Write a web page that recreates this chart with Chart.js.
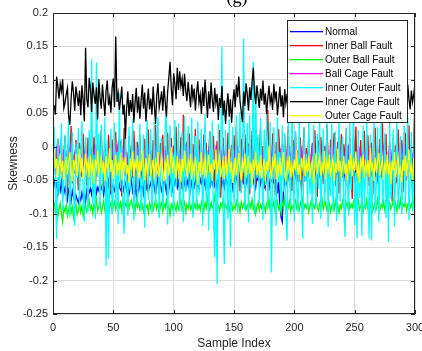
<!DOCTYPE html>
<html>
<head>
<meta charset="utf-8">
<script src="https://cdn.jsdelivr.net/npm/chart.js@4"></script>
<style>
  html, body { margin: 0; padding: 0; background: #fff; }
  canvas { display: block; }
</style>
</head>
<body>
<canvas id="skewChart" width="422" height="351"></canvas>
<script>
const xTicks = [0, 50, 100, 150, 200, 250, 300];
const yTicks = [0.2, 0.15, 0.1, 0.05, 0, -0.05, -0.1, -0.15, -0.2, -0.25];

const faultNames = ["Normal", "Inner Ball Fault", "Outer Ball Fault", "Ball Cage Fault",
  "Inner Outer Fault", "Inner Cage Fault", "Outer Cage Fault"];
const faultColors = ["#0000ff", "#ff0000", "#00ff00", "#ff00ff", "#00ffff", "#000000", "#ffff00"];

const normal = [
  -.048,-.062,-.055,-.071,-.058,-.066,-.052,-.074,-.060,-.069,
  -.057,-.078,-.064,-.070,-.081,-.066,-.075,-.083,-.072,-.079,
  -.084,-.073,-.080,-.068,-.077,-.071,-.082,-.065,-.074,-.069,
  -.062,-.071,-.058,-.067,-.054,-.070,-.061,-.066,-.049,-.063,
  -.058,-.072,-.060,-.055,-.068,-.051,-.064,-.070,-.057,-.062,
  -.066,-.053,-.060,-.069,-.056,-.063,-.048,-.067,-.059,-.054,
  -.065,-.057,-.071,-.061,-.050,-.068,-.062,-.055,-.073,-.060,
  -.066,-.052,-.064,-.058,-.070,-.047,-.063,-.056,-.068,-.059,
  -.054,-.067,-.049,-.061,-.072,-.058,-.045,-.063,-.055,-.066,
  -.060,-.042,-.058,-.068,-.051,-.063,-.047,-.057,-.065,-.050,
  -.056,-.044,-.061,-.052,-.067,-.048,-.059,-.041,-.055,-.063,
  -.049,-.058,-.043,-.064,-.051,-.046,-.060,-.053,-.040,-.057,
  -.062,-.048,-.055,-.044,-.059,-.050,-.066,-.045,-.053,-.060,
  -.047,-.056,-.042,-.058,-.051,-.063,-.046,-.054,-.039,-.057,
  -.050,-.061,-.045,-.053,-.058,-.043,-.055,-.048,-.062,-.046,
  -.052,-.040,-.057,-.049,-.044,-.060,-.047,-.053,-.038,-.055,
  -.046,-.058,-.043,-.051,-.036,-.054,-.048,-.061,-.045,-.050,
  -.041,-.056,-.047,-.052,-.039,-.059,-.044,-.050,-.062,-.048,
  -.043,-.055,-.049,-.060,-.046,-.070,-.052,-.088,-.105,-.112,
  -.064,-.048,-.041,-.056,-.045,-.037,-.052,-.043,-.049,-.035,
  -.044,-.030,-.047,-.038,-.052,-.033,-.041,-.048,-.029,-.045,
  -.036,-.042,-.027,-.050,-.034,-.040,-.046,-.031,-.055,-.038,
  -.044,-.028,-.039,-.047,-.032,-.041,-.025,-.049,-.036,-.043,
  -.030,-.046,-.037,-.052,-.033,-.040,-.045,-.026,-.042,-.035,
  -.048,-.031,-.039,-.044,-.027,-.050,-.036,-.041,-.030,-.046,
  -.034,-.043,-.028,-.038,-.047,-.032,-.040,-.024,-.045,-.037,
  -.041,-.029,-.046,-.035,-.039,-.026,-.043,-.033,-.048,-.031,
  -.038,-.044,-.027,-.040,-.034,-.022,-.042,-.036,-.029,-.045,
  -.023,-.031,-.015,-.028,-.019,-.008,-.025,-.033,-.017,-.022,
  -.029,-.014,-.026,-.010,-.020,-.024,-.006,-.027,-.013,-.021
];

const innerBall = [
  .008,-.042,-.015,.012,-.060,-.025,.004,-.048,-.010,.016,
  -.035,-.070,.002,-.022,.031,-.055,-.012,-.040,.010,-.028,
  -.065,.006,-.018,-.045,.020,-.033,-.008,-.058,.014,-.024,
  -.050,.000,-.030,.015,-.072,-.016,.008,-.041,-.003,.025,
  -.036,-.062,.005,-.020,-.046,.018,-.028,-.068,.011,-.038,
  -.012,.022,-.052,-.005,-.031,.009,-.074,-.019,.028,-.043,
  -.008,-.056,.016,-.026,.003,-.047,.024,-.015,-.061,.007,
  -.032,.019,-.049,-.011,-.038,.012,-.066,-.021,.026,-.044,
  -.004,-.057,.010,-.029,.033,-.036,-.013,-.070,.006,-.025,
  .018,-.048,-.009,-.034,.021,-.059,-.017,.013,-.042,.002,
  -.027,.030,-.053,-.006,-.038,.015,-.064,.048,-.019,-.045,
  .008,-.031,.020,-.058,-.012,.004,-.040,.027,-.069,-.022,
  .011,-.035,-.003,-.051,.018,-.026,.006,-.062,-.014,.023,
  -.043,-.008,.016,-.055,-.020,.009,-.037,.025,-.076,-.011,
  .014,-.046,-.002,-.030,.021,-.060,-.016,.003,-.050,.017,
  -.024,.032,-.041,-.007,-.067,.012,-.028,-.053,.019,-.015,
  -.039,.005,-.071,-.018,.024,-.034,-.004,-.057,.013,-.045,
  -.010,.028,-.049,.001,-.063,-.021,.016,.055,-.038,-.006,
  -.052,.020,-.025,-.073,.007,-.035,.026,-.013,-.058,.004,
  -.030,.017,-.047,-.009,.031,-.040,-.016,-.066,.010,-.023,
  .022,-.054,-.005,-.037,.014,-.069,-.019,.029,-.044,-.002,
  -.031,.018,-.060,-.011,.006,-.048,.025,-.027,-.075,.009,
  -.036,.015,-.021,-.056,.001,-.042,.033,-.014,-.064,.011,
  -.028,-.007,.021,-.051,-.017,.008,-.070,-.033,.019,-.046,
  .004,-.024,.027,-.061,-.010,.013,-.039,-.078,.016,-.022,
  .030,-.050,-.003,-.034,.010,-.066,-.018,.024,-.043,-.008,
  .017,-.059,-.026,.006,-.072,-.014,.028,-.037,-.001,-.053,
  .012,-.029,.035,-.047,-.009,.019,-.064,-.020,.008,-.041,
  -.081,.015,-.032,.003,-.055,.026,-.016,-.044,.010,-.068,
  -.023,.021,-.050,-.006,.032,-.038,-.012,-.075,.018,.065
];

const outerBall = [
  -.082,-.098,-.088,-.104,-.093,-.085,-.100,-.112,-.091,-.097,
  -.087,-.103,-.094,-.083,-.099,-.090,-.106,-.092,-.086,-.101,
  -.095,-.084,-.098,-.089,-.104,-.093,-.087,-.097,-.091,-.080,
  -.094,-.088,-.100,-.085,-.092,-.079,-.096,-.089,-.083,-.098,
  -.090,-.081,-.095,-.086,-.093,-.078,-.091,-.084,-.097,-.088,
  -.082,-.094,-.087,-.076,-.090,-.083,-.096,-.079,-.092,-.085,
  -.089,-.075,-.093,-.084,-.080,-.091,-.086,-.097,-.081,-.090,
  -.085,-.094,-.079,-.088,-.096,-.083,-.091,-.087,-.099,-.084,
  -.092,-.081,-.095,-.088,-.078,-.093,-.086,-.100,-.089,-.083,
  -.097,-.085,-.091,-.080,-.094,-.088,-.102,-.086,-.092,-.081,
  -.089,-.096,-.084,-.093,-.087,-.079,-.095,-.090,-.083,-.098,
  -.086,-.092,-.080,-.094,-.088,-.099,-.085,-.091,-.078,-.093,
  -.087,-.095,-.082,-.090,-.097,-.084,-.092,-.076,-.089,-.094,
  -.083,-.091,-.086,-.074,-.093,-.081,-.088,-.096,-.085,-.090,
  -.079,-.094,-.087,-.092,-.082,-.097,-.088,-.084,-.095,-.089,
  -.093,-.081,-.090,-.086,-.098,-.083,-.091,-.087,-.077,-.094,
  -.088,-.096,-.084,-.091,-.079,-.093,-.086,-.100,-.090,-.083,
  -.095,-.087,-.092,-.080,-.089,-.097,-.085,-.091,-.078,-.094,
  -.086,-.090,-.083,-.096,-.088,-.081,-.093,-.087,-.099,-.084,
  -.090,-.077,-.094,-.086,-.091,-.082,-.097,-.088,-.093,-.085,
  -.080,-.092,-.087,-.095,-.083,-.089,-.076,-.093,-.086,-.091,
  -.084,-.098,-.088,-.081,-.094,-.087,-.092,-.079,-.090,-.096,
  -.085,-.091,-.078,-.093,-.087,-.082,-.095,-.089,-.084,-.097,
  -.088,-.083,-.094,-.080,-.091,-.086,-.099,-.087,-.092,-.081,
  -.089,-.095,-.084,-.090,-.077,-.093,-.086,-.091,-.082,-.096,
  -.087,-.092,-.080,-.094,-.088,-.083,-.097,-.086,-.091,-.079,
  -.093,-.085,-.090,-.082,-.096,-.088,-.084,-.092,-.078,-.089,
  -.094,-.086,-.091,-.081,-.095,-.087,-.072,-.090,-.084,-.093,
  -.088,-.080,-.092,-.085,-.097,-.083,-.090,-.078,-.094,-.086,
  -.089,-.082,-.095,-.087,-.080,-.091,-.085,-.093,-.079,-.088
];

const ballCage = [
  -.010,-.018,-.004,-.022,-.012,.002,-.016,-.026,-.008,-.014,
  -.020,-.006,-.028,-.011,.004,-.017,-.023,-.009,-.002,-.019,
  -.013,-.025,-.007,-.015,-.030,-.010,.001,-.021,-.012,-.005,
  -.018,-.024,-.009,-.014,.003,-.020,-.027,-.011,-.016,-.006,
  -.022,-.013,-.001,-.019,-.029,-.008,-.015,-.024,-.004,-.017,
  -.011,-.021,-.007,.005,-.018,-.026,-.012,-.003,-.020,-.014,
  -.009,-.023,-.016,-.031,-.010,-.002,-.019,-.013,-.025,-.006,
  -.017,.000,-.022,-.012,-.028,-.008,-.015,-.020,-.004,-.024,
  -.011,-.018,-.033,-.009,-.014,.002,-.021,-.016,-.027,-.007,
  -.013,-.023,-.005,-.019,-.010,-.029,-.015,.001,-.020,-.012,
  -.025,-.008,-.017,-.003,-.022,-.014,-.030,-.009,-.018,.004,
  -.012,-.024,-.006,-.020,-.015,-.027,-.010,-.001,-.019,-.013,
  -.028,-.007,-.016,-.021,.003,-.011,-.026,-.014,-.005,-.022,
  -.017,-.009,-.032,-.013,-.002,-.020,-.015,-.024,-.008,-.018,
  .001,-.023,-.012,-.027,-.006,-.016,-.021,-.011,-.029,-.004,
  -.019,-.014,.002,-.025,-.010,-.018,-.031,-.007,-.015,-.022,
  -.012,-.003,-.020,-.026,-.009,-.017,.000,-.023,-.013,-.028,
  -.006,-.016,-.021,-.011,-.030,-.004,-.019,-.014,-.024,-.008,
  -.018,.003,-.022,-.012,-.027,-.007,-.015,-.020,-.002,-.025,
  -.013,-.019,-.009,-.029,-.016,.001,-.021,-.011,-.026,-.005,
  -.017,-.023,-.010,-.014,-.031,-.006,-.019,.004,-.024,-.012,
  -.020,-.008,-.027,-.015,-.002,-.022,-.013,-.018,-.028,-.009,
  .002,-.016,-.021,-.011,-.025,-.005,-.019,-.014,-.030,-.007,
  -.017,-.023,.000,-.012,-.020,-.026,-.008,-.015,-.003,-.022,
  -.013,-.029,-.010,-.018,.003,-.021,-.014,-.024,-.006,-.016,
  -.027,-.009,-.019,-.001,-.023,-.012,-.030,-.017,-.007,-.020,
  -.011,-.025,.004,-.015,-.022,-.008,-.018,-.028,-.004,-.014,
  -.021,-.010,-.026,-.002,-.016,-.023,-.012,-.019,.001,-.027,
  -.008,-.015,-.020,-.011,-.029,-.005,-.017,-.022,-.013,.002,
  -.018,-.024,-.009,-.014,-.026,-.003,-.020,-.012,-.016,.004
];

const innerOuter = [
  .030,-.052,-.138,.012,-.071,-.020,.035,-.095,-.041,.018,
  -.083,-.010,.041,-.105,-.036,.022,-.064,-.118,.005,-.047,
  .028,-.090,-.015,.038,-.072,-.112,.015,-.030,-.098,.025,
  -.060,.131,-.085,-.012,-.108,.126,-.045,.020,-.092,.033,
  -.070,-.020,.044,-.178,.010,-.167,-.038,.027,-.101,-.055,
  .036,-.088,-.008,-.115,.080,-.062,.012,-.094,-.130,.024,
  -.048,-.103,.030,-.066,-.017,.042,-.110,-.031,.008,-.087,
  -.040,.034,-.096,-.058,.018,-.121,-.025,.040,-.079,-.012,
  .026,-.100,-.050,.037,-.085,-.018,.045,-.107,-.034,.014,
  -.091,-.055,.029,.058,-.116,-.027,.032,-.075,-.009,-.104,
  .040,-.060,-.022,.035,-.097,-.043,.021,-.112,.046,-.068,
  -.015,.031,-.089,-.051,.043,-.106,-.028,.016,-.094,.038,
  -.073,-.019,.027,-.118,-.044,.049,-.083,-.006,-.125,.022,
  -.058,.039,-.100,-.165,-.030,-.205,.034,-.077,-.012,.149,
  -.090,-.175,.025,-.048,-.108,.041,-.150,-.020,.030,-.086,
  -.055,.047,-.099,-.014,.052,-.070,-.033,.162,-.095,-.040,
  .035,-.113,.048,-.062,-.025,.127,-.101,.090,-.047,.018,
  -.084,.043,-.036,-.110,.026,-.058,.050,-.092,-.015,.037,
  -.188,-.041,.029,-.079,-.118,.044,-.053,-.008,-.096,.032,
  -.067,.021,-.104,-.140,.036,-.045,-.088,.051,-.026,-.112,
  .024,-.060,-.098,.039,-.035,-.080,-.137,.030,-.052,-.011,
  -.093,.046,-.071,-.024,-.115,.033,-.047,-.090,.019,-.063,
  .041,-.108,-.030,.027,-.084,-.056,.038,-.120,-.010,-.074,
  .034,-.097,-.042,.023,-.111,-.060,.047,-.082,-.019,.015,
  -.089,-.135,.028,-.050,-.103,.036,-.065,-.022,.044,-.117,
  -.038,-.137,.025,-.076,-.014,-.133,.032,-.092,-.046,.040,
  -.070,-.137,.018,-.140,-.028,.037,-.099,-.054,.029,-.113,
  -.035,.043,-.087,-.062,.021,-.106,-.017,-.142,.034,-.078,
  -.045,.027,-.119,-.030,.039,-.093,-.058,.016,-.101,-.040,
  .031,-.085,-.024,.045,-.110,-.052,.022,-.096,-.035,.105
];

const innerCage = [
  .062,.048,.105,.091,.072,.094,.083,.101,.058,.066,
  .079,.088,.045,.033,.072,.098,.081,.054,.090,.076,
  .061,.084,.047,.092,.069,.038,.148,.071,.059,.103,
  .087,.052,.096,.078,.064,.089,.041,.101,.073,.057,
  .093,.068,.046,.084,.099,.062,.074,.051,.088,.102,
  .059,.165,.067,.080,.055,.071,.090,.048,.063,.012,
  .058,.083,.046,.070,.052,.079,.036,.066,.088,.051,
  .075,.042,.069,.093,.057,.081,.038,.064,.087,.056,
  .072,.048,.090,.061,.034,.077,.095,.058,.069,.083,
  .054,.091,.067,.045,.082,.104,.127,.088,.062,.110,
  .094,.071,.118,.085,.113,.090,.102,.076,.109,.084,
  .068,.097,.079,.059,.093,.072,.087,.054,.081,.098,
  .066,.078,.049,.089,.061,.100,.074,.043,.083,.057,
  .096,.070,.052,.088,.065,.079,.040,.073,.058,.091,
  .047,.069,.034,.062,.080,.045,.071,.036,.066,.086,
  .059,.093,.074,.105,.068,.052,.037,.083,.061,.095,
  .078,.054,.089,.070,.097,.118,.081,.064,.092,.075,
  .058,.087,.069,.099,.063,.080,.049,.072,.091,.066,
  .076,.055,.094,.071,.083,.047,.068,.090,.060,.077,
  .044,.086,.065,.079,.052,.093,.070,.061,.088,.057,
  .073,.040,.084,.066,.098,.059,.075,.045,.087,.069,
  .056,.092,.071,.038,.080,.063,.095,.067,.050,.082,
  .074,.058,.089,.043,.077,.065,.101,.070,.054,.086,
  .062,.079,.048,.091,.068,.083,.039,.073,.059,.088,
  .066,.051,.085,.072,.094,.057,.076,.042,.081,.064,
  .090,.069,.053,.087,.061,.078,.036,.070,.093,.058,
  .074,.048,.089,.065,.083,.052,.071,.040,.085,.063,
  .077,.055,.092,.068,.046,.080,.062,.088,.035,.071,
  .059,.086,.067,.050,.079,.064,.091,.044,.073,.057,
  .082,.049,.068,.093,.071,.056,.084,.067,.079,.094
];

const outerCage = [
  -.005,-.032,-.018,-.045,-.026,-.012,-.038,-.021,-.050,-.029,
  -.015,-.041,-.024,-.008,-.036,-.052,-.020,-.033,-.011,-.044,
  -.027,-.003,-.039,-.017,-.048,-.030,-.010,-.035,-.022,-.046,
  -.013,-.037,-.025,-.055,-.019,-.031,-.006,-.042,-.028,-.016,
  -.040,-.023,-.051,-.014,-.034,-.026,-.002,-.038,-.020,-.047,
  -.030,-.012,-.043,-.025,-.036,-.009,-.049,-.022,-.032,-.015,
  -.041,-.027,-.054,-.018,-.035,-.007,-.044,-.024,-.031,-.013,
  -.046,-.021,-.037,-.004,-.029,-.050,-.017,-.039,-.026,-.011,
  -.042,-.033,-.019,-.048,-.023,-.036,-.008,-.045,-.028,-.016,
  -.038,-.052,-.022,-.034,-.012,-.043,-.027,-.001,-.040,-.020,
  -.031,-.047,-.014,-.035,-.024,-.053,-.018,-.037,-.006,-.029,
  -.044,-.021,-.033,-.010,-.049,-.026,-.039,-.015,-.032,-.057,
  -.023,-.036,-.008,-.042,-.028,-.017,-.046,-.030,-.012,-.039,
  -.025,-.051,-.019,-.034,-.004,-.041,-.027,-.015,-.045,-.032,
  -.020,-.048,-.013,-.037,-.026,-.003,-.040,-.022,-.054,-.030,
  -.016,-.043,-.028,-.009,-.036,-.050,-.021,-.033,-.011,-.045,
  -.029,-.014,-.040,-.024,-.056,-.019,-.035,-.007,-.042,-.026,
  -.038,-.012,-.047,-.031,-.018,-.052,-.023,-.036,.002,-.034,
  -.044,-.020,-.030,-.010,-.049,-.027,-.039,-.016,-.043,-.025,
  -.008,-.037,-.053,-.021,-.033,-.014,-.046,-.028,-.040,-.019,
  -.035,-.005,-.042,-.026,-.050,-.017,-.031,-.011,-.044,-.024,
  -.038,-.013,-.047,-.029,-.020,-.055,-.032,-.009,-.041,-.025,
  -.015,-.043,-.027,-.036,-.006,-.048,-.022,-.034,-.012,-.045,
  -.030,-.018,-.052,-.024,-.039,-.003,-.037,-.021,-.046,-.028,
  -.014,-.041,-.026,-.050,-.019,-.033,-.010,-.044,-.023,-.036,
  -.007,-.040,-.029,-.054,-.017,-.031,-.012,-.047,-.025,-.038,
  -.020,-.045,-.002,-.034,-.027,-.051,-.016,-.039,-.022,-.009,
  -.043,-.030,-.018,-.049,-.026,-.037,-.011,-.042,-.024,-.056,
  -.021,-.035,-.008,-.046,-.028,-.015,-.040,-.032,-.053,-.019,
  -.036,-.013,-.044,-.025,-.004,-.038,-.029,-.050,-.017,-.031
];

const seriesValues = [normal, innerBall, outerBall, ballCage, innerOuter, innerCage, outerCage];

const axisColor = "#262626";
const gridColor = "#dcdcdc";
const font = "'Liberation Sans', Arial, sans-serif";

// frame with inward tick marks, the "(g)" caption and the boxed legend
const framePlugin = {
  id: "frame",
  afterDraw(chart) {
    const { ctx, chartArea: a, scales } = chart;
    ctx.save();
    ctx.strokeStyle = axisColor;
    ctx.lineWidth = 1;
    ctx.strokeRect(a.left + 0.5, a.top + 0.5, a.right - a.left - 1, a.bottom - a.top - 1);
    ctx.beginPath();
    xTicks.forEach(v => {
      const x = Math.round(scales.x.getPixelForValue(v)) + 0.5;
      ctx.moveTo(x, a.bottom); ctx.lineTo(x, a.bottom - 4);
      ctx.moveTo(x, a.top); ctx.lineTo(x, a.top + 4);
    });
    yTicks.forEach(v => {
      const y = Math.round(scales.y.getPixelForValue(v)) + 0.5;
      ctx.moveTo(a.left, y); ctx.lineTo(a.left + 4, y);
      ctx.moveTo(a.right, y); ctx.lineTo(a.right - 4, y);
    });
    ctx.stroke();

    ctx.fillStyle = "#000";
    ctx.font = "18px 'Liberation Serif', serif";
    ctx.textAlign = "center";
    ctx.textBaseline = "alphabetic";
    ctx.fillText("(g)", 237, 3);

    // legend
    const lx = 287, ly = 20, lw = 120, lh = 102;
    ctx.fillStyle = "#fff";
    ctx.fillRect(lx, ly, lw, lh);
    ctx.strokeStyle = axisColor;
    ctx.lineWidth = 1;
    ctx.strokeRect(lx + 0.5, ly + 0.5, lw, lh);
    ctx.font = "10px " + font;
    ctx.textAlign = "left";
    ctx.textBaseline = "middle";
    faultNames.forEach((name, i) => {
      const y = 31 + i * 14;
      ctx.fillStyle = faultColors[i];
      ctx.fillRect(290, y, 33, 1.3);
      ctx.fillStyle = "#000";
      ctx.fillText(name, 325, y + 1);
    });
    ctx.restore();
  }
};

new Chart(document.getElementById("skewChart"), {
  type: "line",
  data: {
    datasets: seriesValues.map((vals, i) => ({
      label: faultNames[i],
      data: vals.map((v, k) => ({ x: k + 1, y: v })),
      borderColor: faultColors[i],
      borderWidth: 1.3,
      pointRadius: 0,
      tension: 0,
      order: seriesValues.length - i
    }))
  },
  options: {
    responsive: false,
    animation: false,
    layout: { padding: { top: 13, right: 7, left: 0, bottom: 0 } },
    plugins: {
      legend: { display: false },
      tooltip: { enabled: false }
    },
    scales: {
      x: {
        type: "linear",
        min: 0,
        max: 300,
        afterBuildTicks: s => { s.ticks = xTicks.map(v => ({ value: v })); },
        afterFit: s => { s.height = 37; s.paddingLeft = 0; s.paddingRight = 0; },
        grid: { color: gridColor, drawTicks: false },
        border: { display: false },
        ticks: { color: axisColor, font: { size: 11, family: font }, padding: 7, maxRotation: 0, autoSkip: false },
        title: { display: true, text: "Sample Index", color: axisColor, font: { size: 12, family: font }, padding: { top: 3, bottom: 0 } }
      },
      y: {
        min: -0.25,
        max: 0.2,
        afterBuildTicks: s => { s.ticks = yTicks.map(v => ({ value: v })); },
        afterFit: s => { s.width = 53; },
        grid: { color: gridColor, drawTicks: false },
        border: { display: false },
        ticks: {
          color: axisColor,
          font: { size: 11, family: font },
          padding: 5,
          callback: v => String(Number(v.toFixed(2)))
        },
        title: { display: true, text: "Skewness", color: axisColor, font: { size: 12, family: font }, padding: { top: 6, bottom: 2 } }
      }
    }
  },
  plugins: [framePlugin]
});
</script>
</body>
</html>
